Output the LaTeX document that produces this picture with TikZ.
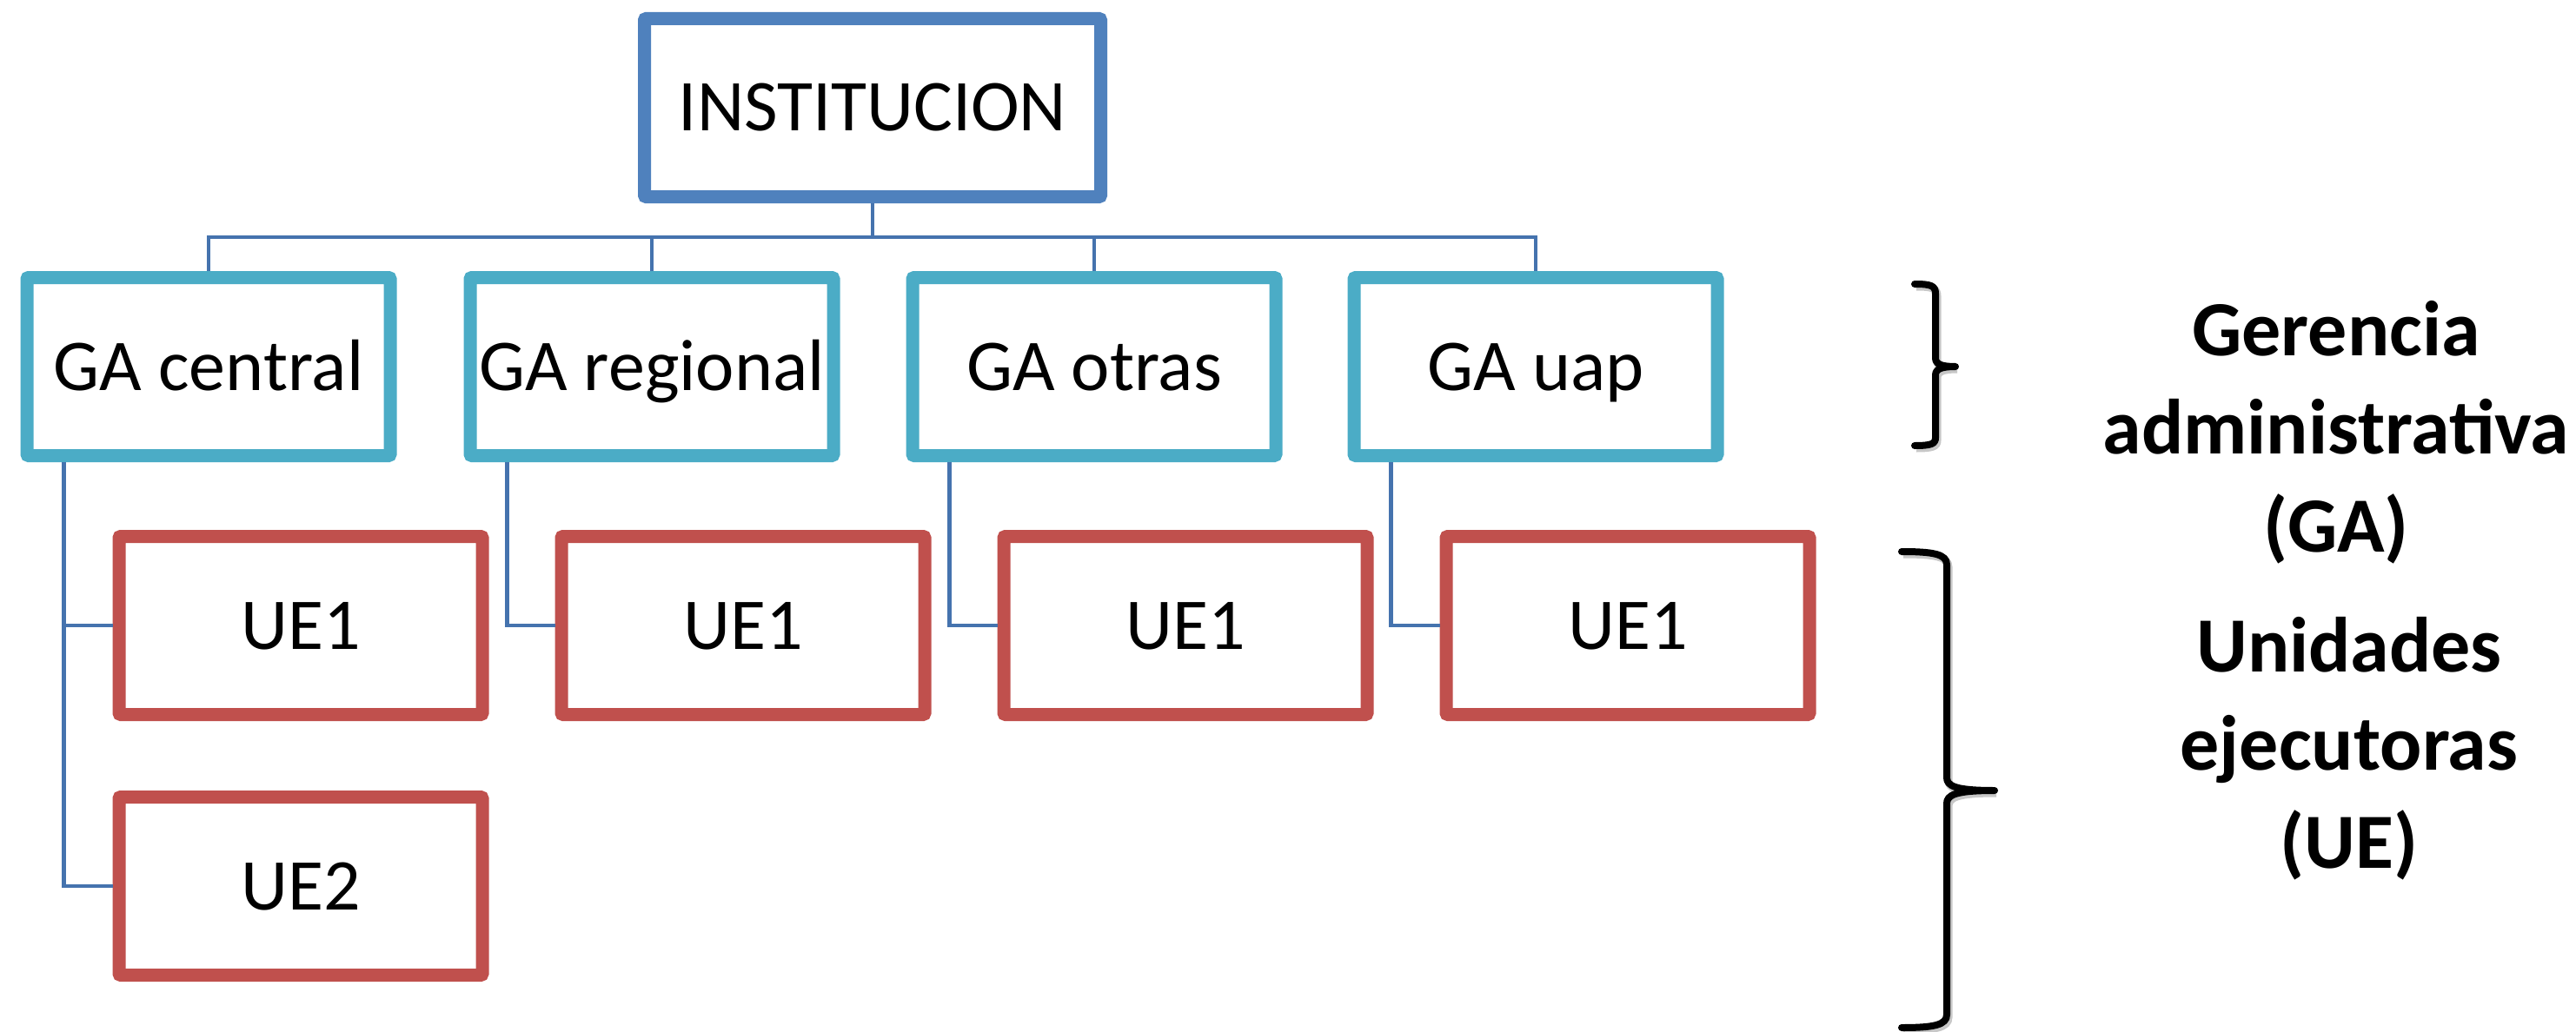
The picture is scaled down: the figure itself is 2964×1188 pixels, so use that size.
\documentclass[tikz,border=0pt]{standalone}
\usepackage{fontspec}
\setmainfont{Carlito}
\usetikzlibrary{calc}
\definecolor{instblue}{HTML}{4F81BD}
\definecolor{gateal}{HTML}{4BACC6}
\definecolor{uered}{HTML}{C0504D}
\definecolor{connblue}{HTML}{4573AE}
\begin{document}
\begin{tikzpicture}[x=1pt,y=-1pt,
  box/.style={draw, line width=15pt, rounded corners=2pt, fill=white,
    minimum width=418pt, minimum height=205pt, inner sep=0pt,
    text height=54pt, text depth=0pt, font=\fontsize{84}{100}\selectfont},
  inst/.style={box, draw=instblue, minimum width=525pt},
  gabox/.style={box, draw=gateal},
  uebox/.style={box, draw=uered},
  conn/.style={draw=connblue, line width=4.5pt},
  bracestyle/.style={draw=black, line width=8pt, line cap=round, line join=round,
    preaction={draw=black!22, line width=9pt, transform canvas={xshift=2pt,yshift=-3pt}}},
  lbl/.style={font=\bfseries\fontsize{90}{113}\selectfont, align=center, inner sep=0pt}
]
\useasboundingbox (0,0) rectangle (2964,1188);

% nodes
\node[inst] (inst) at (1004,124) {INSTITUCION};
\node[gabox] (ga1) at (240,422) {GA central};
\node[gabox] (ga2) at (750,422) {GA regional};
\node[gabox] (ga3) at (1259,422) {GA otras};
\node[gabox] (ga4) at (1767,422) {GA uap};
\node[uebox] (ue11) at (346,720) {UE1};
\node[uebox] (ue12) at (855,720) {UE1};
\node[uebox] (ue13) at (1364,720) {UE1};
\node[uebox] (ue14) at (1873,720) {UE1};
\node[uebox] (ue2) at (346,1020) {UE2};

% top connectors
\coordinate (bus) at ($(inst.south)+(0,39)$);
\draw[conn] (inst.south) -- (bus);
\draw[conn] (ga1.north) |- (bus) -| (ga4.north);
\draw[conn] (ga2.north) -- (ga2.north |- bus);
\draw[conn] (ga3.north) -- (ga3.north |- bus);

% child connectors
\coordinate (d1) at ($(ga1.south west)+(50,0)$);
\coordinate (d2) at ($(ga2.south west)+(50,0)$);
\coordinate (d3) at ($(ga3.south west)+(50,0)$);
\coordinate (d4) at ($(ga4.south west)+(50,0)$);
\draw[conn] (d1) |- (ue2.west);
\draw[conn] (d1) |- (ue11.west);
\draw[conn] (d2) |- (ue12.west);
\draw[conn] (d3) |- (ue13.west);
\draw[conn] (d4) |- (ue14.west);

% braces
\draw[bracestyle] (2203,327) .. controls (2222,327) and (2227,329) .. (2227,338)
  -- (2227,412) .. controls (2227,419) and (2233,422) .. (2250,422)
  .. controls (2233,422) and (2227,425) .. (2227,432)
  -- (2227,504) .. controls (2227,511) and (2222,513) .. (2203,513);
\draw[bracestyle] (2188,635) .. controls (2225,635) and (2240,638) .. (2240,650)
  -- (2240,895) .. controls (2240,905) and (2250,910) .. (2295,910)
  .. controls (2250,910) and (2240,915) .. (2240,925)
  -- (2240,1168) .. controls (2240,1180) and (2225,1183) .. (2188,1183);

% labels
\node[lbl, anchor=north] (lblga) at (2688,346) {Gerencia\\administrativa\\(GA)};
\node[lbl, anchor=north] (lblue) at (2703,710) {Unidades\\ejecutoras\\(UE)};
\end{tikzpicture}
\end{document}
